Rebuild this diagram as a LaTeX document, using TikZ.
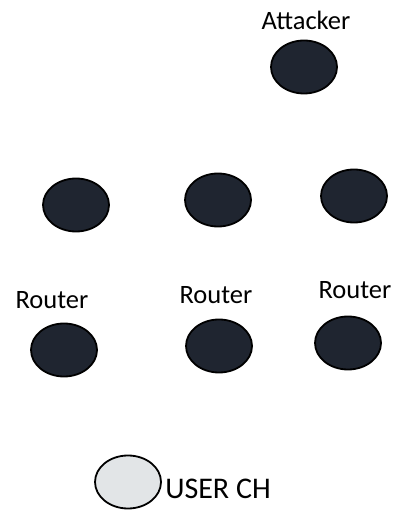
\documentclass[tikz,border=0pt]{standalone}
\usepackage{fontspec}
\setmainfont{Carlito}
\usepackage{xcolor}
\usepackage{tikz}
\usetikzlibrary{shapes.geometric,positioning}

\definecolor{nodedark}{HTML}{1F2530}
\definecolor{nodelight}{HTML}{E2E5E7}

\begin{document}
\begin{tikzpicture}[x=1pt, y=1pt, thick,
    dev/.style={ellipse, draw=black, line width=1.8pt, fill=nodedark, minimum width=66pt, minimum height=53pt, inner sep=0pt},
    userch/.style={dev, fill=nodelight},
    lbl/.style={font=\fontsize{26.5}{30}\selectfont, inner sep=0pt}]
  \useasboundingbox (0,0) rectangle (401,514);
  % attacker
  \node[dev] (Attacker) at (304,447) {};
  \node[lbl] (AttLbl) at (306,494) {Attacker};
  % middle row
  \node[dev] (N1) at (76,309) {};
  \node[dev] (N2) at (218,314) {};
  \node[dev] (N3) at (354,318) {};
  % routers
  \node[dev] (R1) at (64,164) {};
  \node[dev] (R2) at (219,168) {};
  \node[dev] (R3) at (348,171) {};
  \node[lbl] (R1Lbl) at (52,214) {Router};
  \node[lbl] (R2Lbl) at (216,219) {Router};
  \node[lbl] (R3Lbl) at (355,224) {Router};
  % user cluster head
  \node[userch] (User) at (128,32) {};
  \node[lbl, font=\fontsize{30}{34}\selectfont, right=3pt of User, yshift=-7pt] (UserLbl) {USER CH};
\end{tikzpicture}
\end{document}
